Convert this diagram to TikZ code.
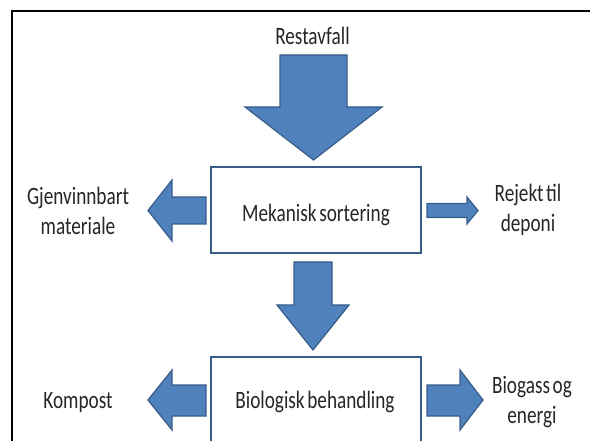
\documentclass[tikz,border=0pt]{standalone}
\usepackage{fontspec}
\setmainfont[FakeStretch=0.77,WordSpace=0.6]{Carlito}
\definecolor{arrfill}{HTML}{4F81BD}
\definecolor{arrline}{HTML}{385D8A}
\definecolor{txt}{HTML}{262626}
\begin{document}
\begin{tikzpicture}[x=1pt,y=-1pt,
  blockarrow/.style={fill=arrfill,draw=arrline,line width=1.2pt,line join=miter},
  procbox/.style={draw=arrline,line width=2pt,fill=white},
  lbl/.style={font=\fontsize{25}{30}\selectfont,text=txt,inner sep=0pt,align=center}]
\useasboundingbox (0,0) rectangle (590,441);
\fill[white] (0,0) rectangle (590,441);
% frame
\draw[line width=2pt] (11.5,445) -- (11.5,11.5) -- (595,11.5);
% boxes
\draw[procbox] (211,167) rectangle (421,253);
\draw[procbox] (211,357) rectangle (421,450);
% arrows
\draw[blockarrow] (280,55) -- (347,55) -- (347,107) -- (382,107) -- (313.5,160) -- (245,107) -- (280,107) -- cycle;
\draw[blockarrow] (294,262) -- (332,262) -- (332,305) -- (349,305) -- (313,350) -- (277,305) -- (294,305) -- cycle;
\draw[blockarrow] (206,197) -- (172,197) -- (172,180) -- (148,210.5) -- (172,241) -- (172,224) -- (206,224) -- cycle;
\draw[blockarrow] (427,203.5) -- (467,203.5) -- (467,197) -- (478,210.5) -- (467,224) -- (467,217.5) -- (427,217.5) -- cycle;
\draw[blockarrow] (206,385) -- (172,385) -- (172,370) -- (148,400) -- (172,430) -- (172,416) -- (206,416) -- cycle;
\draw[blockarrow] (427,385) -- (460,385) -- (460,370) -- (483,400) -- (460,430) -- (460,416) -- (427,416) -- cycle;
% labels
\node[lbl,anchor=base] (rest) at (312.5,45) {Restavfall};
\node[lbl,anchor=base] (mek) at (316,222) {Mekanisk sortering};
\node[lbl,anchor=base] (bio) at (315,408) {Biologisk behandling};
\node[lbl,anchor=base] (komp) at (78,408) {Kompost};
\node[lbl,anchor=base] (gjen) at (78,235) {Gjenvinnbart\\materiale};
\node[lbl,anchor=base] (rej) at (528,232) {Rejekt til\\deponi};
\node[lbl,anchor=base] (biog) at (532,423) {Biogass og\\energi};
\end{tikzpicture}
\end{document}
